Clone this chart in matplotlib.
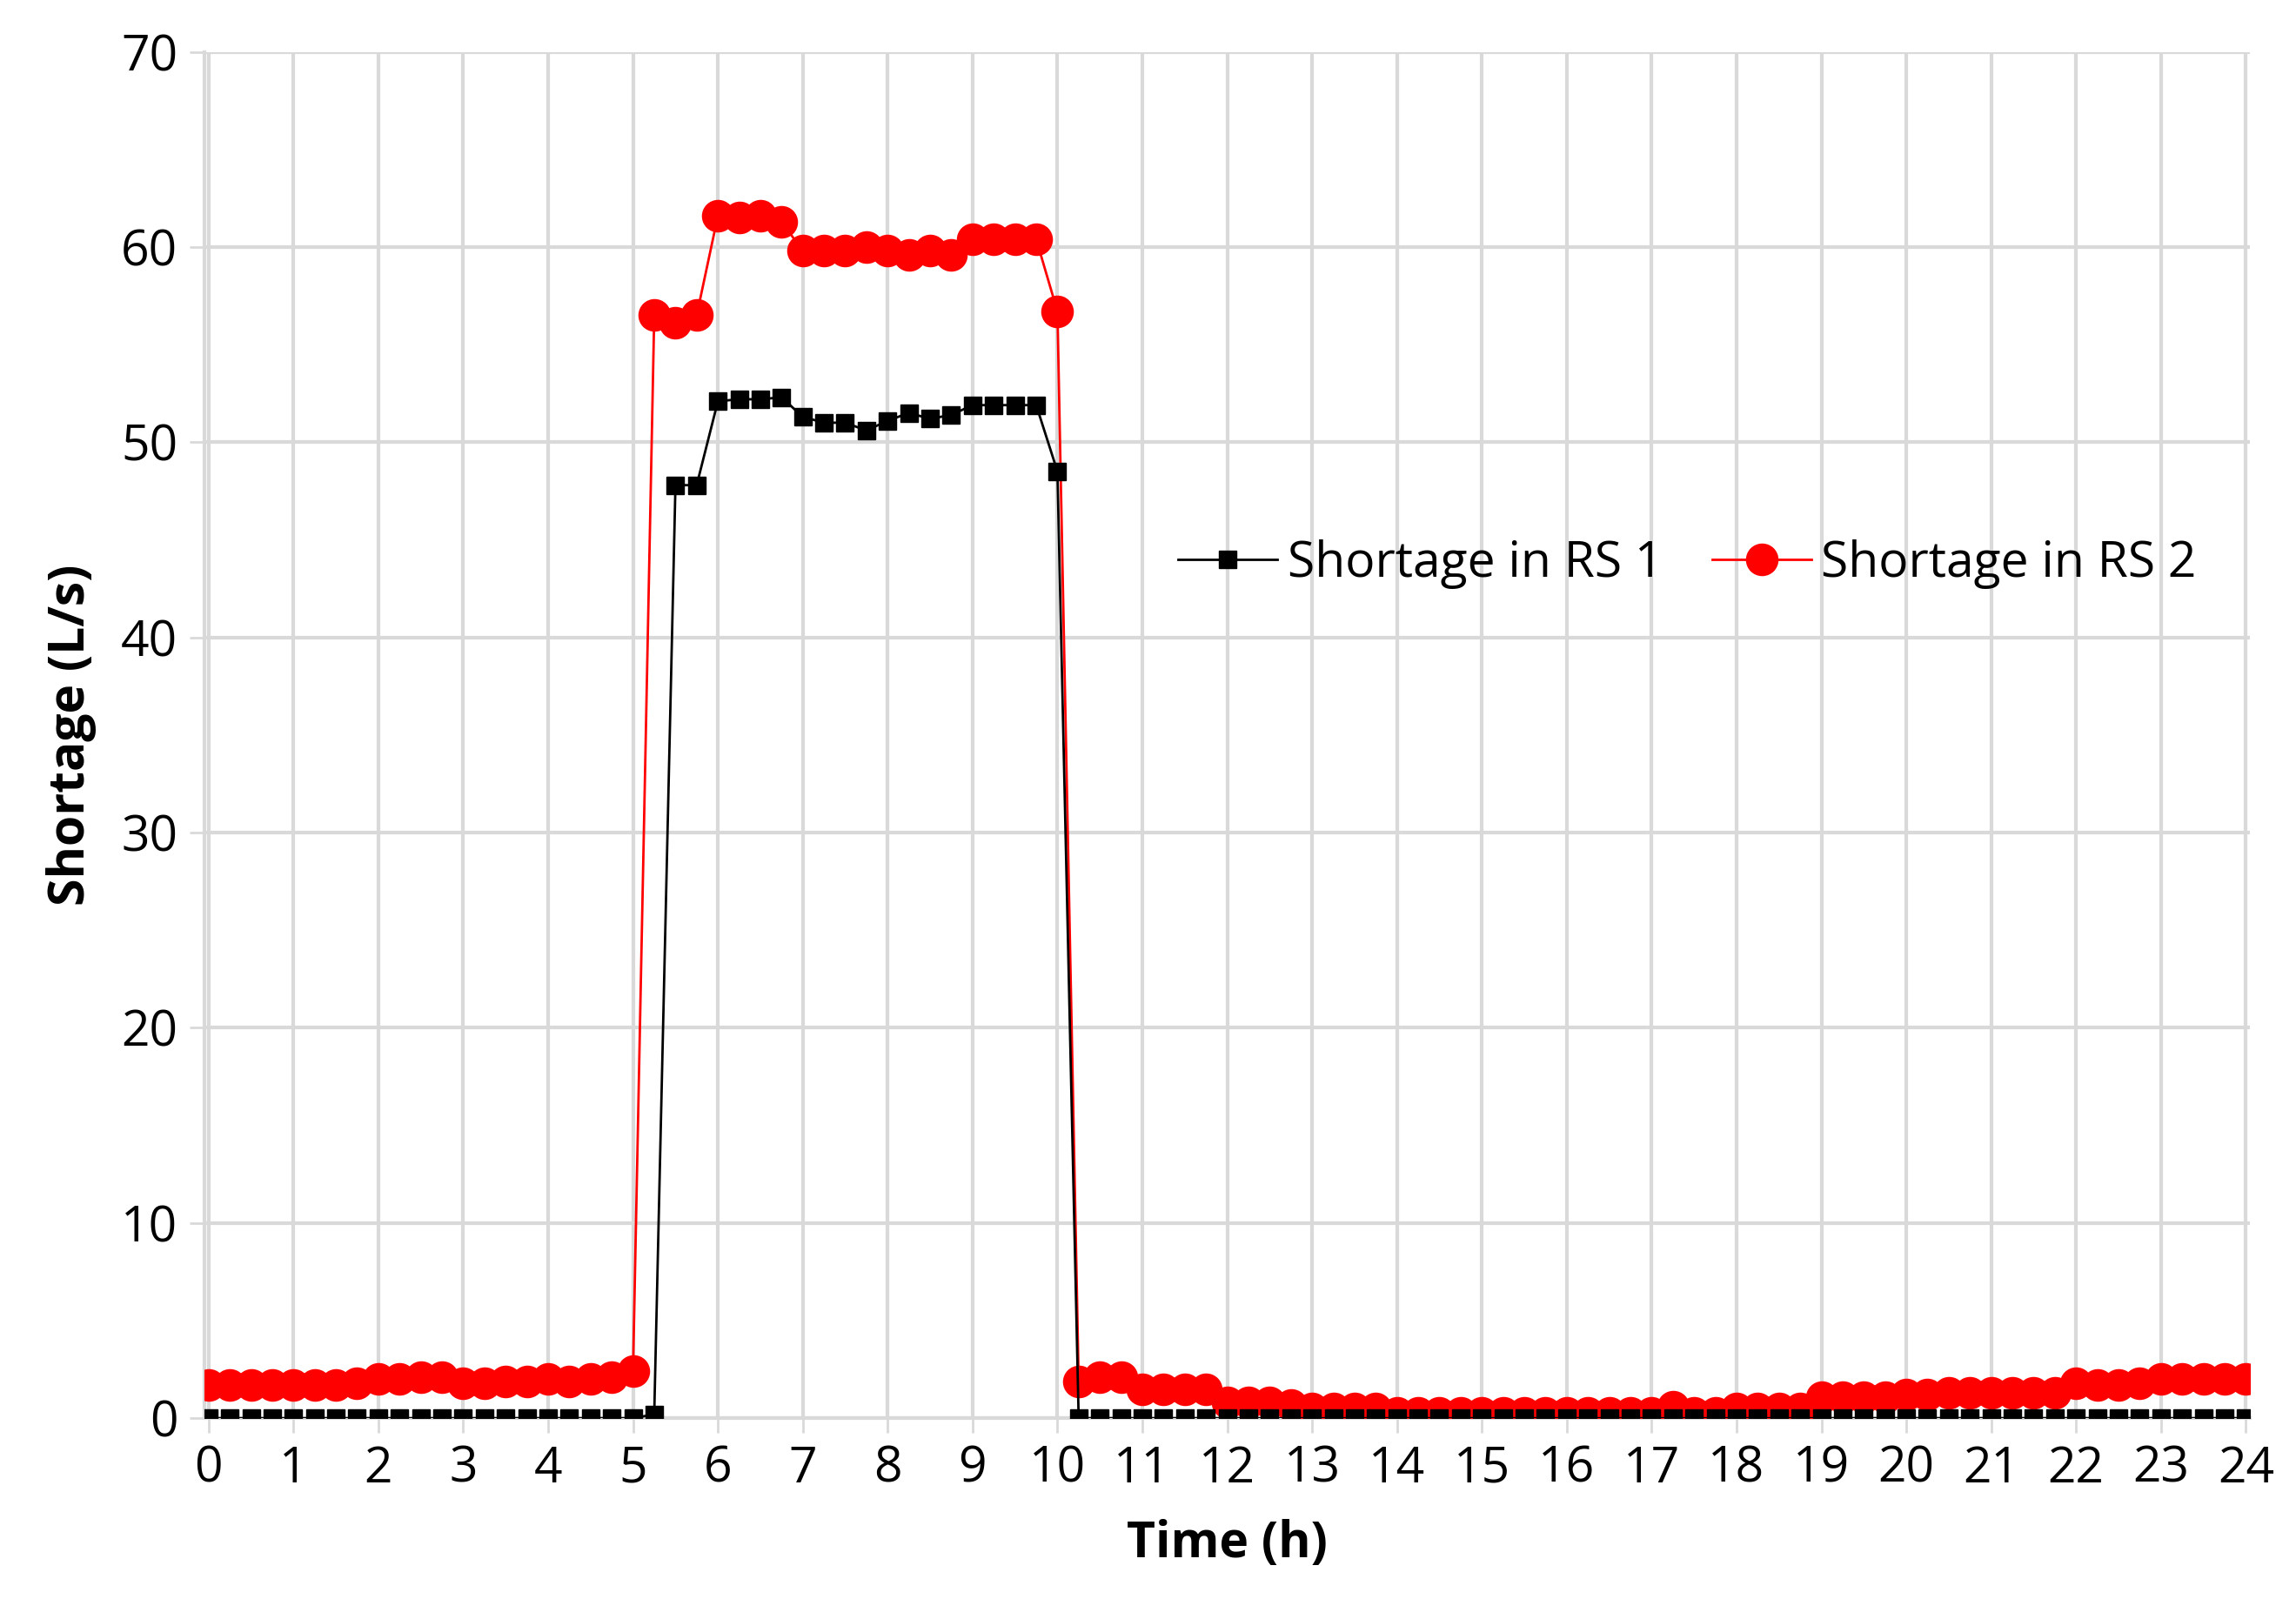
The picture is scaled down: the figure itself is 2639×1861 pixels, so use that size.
import numpy as np
import matplotlib
matplotlib.use("Agg")
import matplotlib.pyplot as plt

time_h = np.arange(0, 24.01, 0.25)
rs1 = [0]*21 + [0.2, 47.8, 47.8, 52.1, 52.2, 52.2, 52.3, 51.3, 51.0, 51.0, 50.6, 51.1, 51.5, 51.2, 51.4,
       51.9, 51.9, 51.9, 51.9, 48.5] + [0]*56
rs2 = [1.7, 1.7, 1.7, 1.7, 1.7, 1.7, 1.7, 1.8, 2.0, 2.0, 2.1, 2.1, 1.8, 1.8, 1.9, 1.9, 2.0, 1.9, 2.0, 2.1, 2.4,
       56.5, 56.1, 56.5, 61.6, 61.5, 61.6, 61.3, 59.8, 59.8, 59.8, 60.0, 59.8, 59.6, 59.8, 59.6,
       60.4, 60.4, 60.4, 60.4, 56.7,
       1.9, 2.1, 2.1, 1.5, 1.5, 1.5, 1.5, 0.8, 0.8, 0.8, 0.7, 0.5, 0.5, 0.5, 0.5,
       0.3, 0.3, 0.3, 0.3, 0.3, 0.3, 0.3, 0.3, 0.3, 0.3, 0.3, 0.3, 0.3, 0.6, 0.3, 0.3,
       0.5, 0.5, 0.5, 0.5, 1.1, 1.1, 1.1, 1.1, 1.2, 1.2, 1.3, 1.3, 1.3, 1.3, 1.3, 1.3,
       1.8, 1.7, 1.7, 1.8, 2.0, 2.0, 2.0, 2.0, 2.0]
xticks = list(range(0, 25))
yticks = list(range(0, 71, 10))

plt.rcParams['font.family'] = ['Open Sans', 'DejaVu Sans']
fig = plt.figure(figsize=(26.39, 18.61), dpi=100)
ax = fig.add_axes([0.089, 0.124, 0.891, 0.844])
ax.plot(time_h, rs1, color='black', lw=2, marker='s', ms=15, label='Shortage in RS 1', zorder=4)
ax.plot(time_h, rs2, color='#ff0000', lw=2, marker='o', ms=26, label='Shortage in RS 2', zorder=3)
ax.set_xlim(-0.05, 24.05)
ax.set_ylim(0, 70)
ax.set_xticks(xticks)
ax.set_yticks(yticks)
ax.grid(True, color='#d9d9d9', lw=3)
ax.set_axisbelow(True)
for s in ['top', 'right']:
    ax.spines[s].set_visible(False)
for s in ['left', 'bottom']:
    ax.spines[s].set_color('#d9d9d9'); ax.spines[s].set_linewidth(3)
ax.tick_params(labelsize=41, length=12, color='#d9d9d9', width=2, pad=10)
ax.set_xlabel('Time (h)', fontsize=41, fontweight='bold', labelpad=20)
ax.set_ylabel('Shortage (L/s)', fontsize=41, fontweight='bold', labelpad=20)
ax.legend(loc='center', bbox_to_anchor=(0.725, 0.625), ncol=2, frameon=False, fontsize=41,
          handlelength=2.0, columnspacing=1.0, handletextpad=0.2)
fig.savefig('out.png', dpi=100)
